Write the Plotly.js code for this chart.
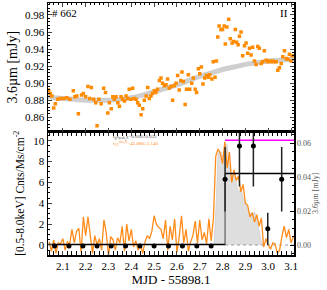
<!DOCTYPE html>
<html><head><meta charset="utf-8">
<script src="https://cdn.plot.ly/plotly-3.0.1.min.js"></script>
<style>html,body{margin:0;padding:0;background:#fff}#plot{width:327px;height:290px}</style>
</head><body><div id="plot"></div>
<script>
// ---- Top panel: 3.6 micron photometry ----
const topX = [2.035,2.038,2.045,2.052,2.060,2.067,2.077,2.088,2.102,2.117,2.131,2.146,2.153,2.161,2.168,2.182,2.190,2.200,2.210,2.218,2.225,2.235,2.244,2.250,2.258,2.268,2.279,2.287,2.297,2.304,2.312,2.319,2.326,2.333,2.341,2.348,2.355,2.362,2.370,2.377,2.384,2.391,2.399,2.406,2.413,2.421,2.428,2.435,2.443,2.450,2.457,2.465,2.472,2.479,2.486,2.493,2.501,2.508,2.515,2.523,2.530,2.537,2.545,2.552,2.559,2.566,2.574,2.581,2.588,2.596,2.603,2.610,2.617,2.622,2.628,2.636,2.642,2.650,2.656,2.665,2.672,2.680,2.686,2.694,2.700,2.707,2.714,2.722,2.729,2.737,2.744,2.753,2.759,2.767,2.773,2.779,2.785,2.793,2.800,2.807,2.812,2.819,2.827,2.834,2.842,2.849,2.856,2.862,2.868,2.874,2.881,2.888,2.896,2.903,2.910,2.918,2.925,2.932,2.940,2.947,2.954,2.961,2.969,2.976,2.983,2.991,2.998,3.005,3.013,3.020,3.027,3.035,3.042,3.049,3.057,3.064,3.071,3.079,3.086,3.093,3.100,3.105];
const topY = [0.892,0.891,0.888,0.885,0.871,0.876,0.881,0.882,0.882,0.883,0.881,0.891,0.884,0.885,0.864,0.886,0.888,0.884,0.896,0.882,0.895,0.881,0.877,0.850,0.881,0.876,0.894,0.889,0.865,0.877,0.870,0.884,0.881,0.884,0.877,0.873,0.884,0.881,0.879,0.885,0.882,0.893,0.881,0.894,0.882,0.881,0.877,0.874,0.863,0.870,0.880,0.885,0.895,0.882,0.885,0.888,0.891,0.889,0.893,0.903,0.906,0.900,0.897,0.898,0.905,0.894,0.896,0.880,0.897,0.900,0.909,0.892,0.903,0.913,0.902,0.875,0.893,0.910,0.893,0.900,0.906,0.893,0.889,0.917,0.911,0.919,0.899,0.906,0.909,0.907,0.910,0.905,0.925,0.907,0.926,0.954,0.967,0.963,0.963,0.967,0.946,0.966,0.975,0.952,0.947,0.949,0.963,0.948,0.945,0.955,0.960,0.932,0.944,0.947,0.935,0.941,0.933,0.942,0.926,0.922,0.943,0.941,0.923,0.925,0.938,0.927,0.925,0.926,0.925,0.926,0.925,0.925,0.915,0.918,0.923,0.931,0.938,0.929,0.928,0.934,0.926,0.932];
const curveX = [2.035,2.06,2.1,2.15,2.2,2.25,2.3,2.35,2.4,2.45,2.5,2.55,2.6,2.65,2.7,2.75,2.8,2.85,2.9,2.95,3.0,3.05,3.1,3.113];
const curveY = [0.884,0.883,0.882,0.881,0.880,0.880,0.880,0.881,0.883,0.886,0.890,0.894,0.898,0.903,0.908,0.912,0.916,0.919,0.922,0.924,0.926,0.927,0.928,0.928];

// ---- Bottom panel: X-ray light curve ----
const xrayX = [2.04,2.05,2.06,2.07,2.08,2.09,2.10,2.11,2.12,2.13,2.14,2.15,2.16,2.17,2.18,2.19,2.20,2.21,2.22,2.23,2.24,2.25,2.26,2.27,2.28,2.29,2.30,2.31,2.32,2.33,2.34,2.35,2.36,2.37,2.38,2.39,2.40,2.41,2.42,2.43,2.44,2.45,2.46,2.47,2.48,2.49,2.50,2.51,2.52,2.53,2.54,2.55,2.56,2.57,2.58,2.59,2.60,2.61,2.62,2.63,2.64,2.65,2.66,2.67,2.68,2.69,2.70,2.71,2.72,2.73,2.74,2.75,2.76,2.77,2.78,2.79,2.80,2.81,2.82,2.83,2.84,2.85,2.86,2.87,2.88,2.89,2.90,2.91,2.92,2.93,2.94,2.95,2.96,2.97,2.98,2.99,3.00,3.01,3.02,3.03,3.04,3.05,3.06,3.07,3.08,3.09,3.10,3.11];
const xrayY = [0.3,-0.6,0.5,-0.8,0.2,0.1,0.6,-0.5,0.3,0.1,1.5,0.2,1.3,1.6,-0.7,2.7,0.9,2.7,1.0,-0.8,0.9,0.0,0.6,-0.5,2.4,1.2,-1.0,0.8,0.5,-0.5,0.7,0.2,1.8,-0.6,2.0,0.4,1.5,-0.2,0.4,-0.5,0.1,-0.8,0.3,0.9,0.6,1.3,2.8,2.0,1.7,1.5,0.6,2.4,-0.5,1.8,0.5,2.5,-0.7,0.8,2.8,0.2,1.5,-0.6,0.3,0.9,2.3,0.2,2.4,0.5,1.2,0.1,2.5,0.4,2.6,8.5,9.2,8.8,7.8,9.9,7.4,8.9,6.0,7.2,6.2,6.6,5.1,5.8,4.0,3.8,2.7,3.1,2.2,2.9,1.8,2.6,-0.2,0.6,0.0,-0.4,0.2,0.1,-0.8,-0.5,0.8,1.8,0.7,1.5,0.2,0.8];
const fillX = [2.762,2.772,2.780,2.790,2.800,2.810,2.820,2.830,2.840,2.850,2.860,2.870,2.880,2.890,2.900,2.910,2.920,2.930,2.940,2.950,2.960,2.970,2.980];
const fillY = [0,4.0,8.8,9.0,8.5,8.8,9.7,7.5,6.5,6.8,6.0,5.0,5.5,4.5,4.0,3.5,3.0,2.8,3.2,2.5,1.5,0.3,0];
const binX = [2.064,2.127,2.188,2.250,2.312,2.375,2.438,2.500,2.563,2.624,2.687,2.750,2.811,2.874,2.935,2.998,3.059];
const binY = [-0.1,-0.1,-0.1,-0.1,-0.1,-0.1,-0.1,-0.1,-0.1,-0.1,-0.1,-0.1,6.3,9.5,9.5,1.55,6.3];
const binErr = [0,0,0,0,0,0,0,0,0,0,0,0,3.1,3.9,3.9,1.55,3.1];
const stepX = [2.035,2.811,null,2.811,3.113];
const stepY = [0.05,0.05,null,6.85,6.85];
const stepEdgeX = [2.811,2.811];
const stepEdgeY = [0,6.85];
const baseX = [2.811,3.113];
const baseY = [0,0];
const maxX = [2.811,3.113];
const maxY = [10.04,10.04];

const serif = 'Liberation Serif';
const orange = '#ff8c1a';

const traces = [
  {x: curveX, y: curveY, xaxis:'x2', yaxis:'y', mode:'lines', line:{color:'#cfcfcf', width:5, shape:'spline'}, hoverinfo:'skip'},
  {x: topX, y: topY, xaxis:'x2', yaxis:'y', mode:'markers', marker:{symbol:'square', size:3.5, color:'#ff8c00'}},
  {x: fillX, y: fillY, xaxis:'x', yaxis:'y2', mode:'lines', fill:'tozeroy', fillcolor:'#dedede', line:{color:'#c8c8c8', width:0.6}},
  {x: baseX, y: baseY, xaxis:'x', yaxis:'y2', mode:'lines', line:{color:'#999', width:1, dash:'dot'}},
  {x: xrayX, y: xrayY, xaxis:'x', yaxis:'y2', mode:'lines', line:{color:orange, width:1.3}},
  {x: stepEdgeX, y: stepEdgeY, xaxis:'x', yaxis:'y2', mode:'lines', line:{color:'#777', width:1.5}},
  {x: stepX, y: stepY, xaxis:'x', yaxis:'y2', mode:'lines', line:{color:'#000', width:1.6}},
  {x: maxX, y: maxY, xaxis:'x', yaxis:'y2', mode:'lines', line:{color:'#ff00ff', width:1.5}},
  {x: binX, y: binY, xaxis:'x', yaxis:'y2', mode:'markers', marker:{size:5, color:'#000'},
   error_y:{type:'data', array: binErr, visible:true, color:'#222', thickness:1.5, width:0}},
  {x: [null], y: [null], xaxis:'x', yaxis:'y3', mode:'markers', showlegend:false}
];

const tickFont = {family: serif, size: 11, color:'#000'};
const layout = {
  width: 327, height: 290,
  margin: {l:48, r:33, t:3, b:35, pad:0},
  paper_bgcolor:'#fff', plot_bgcolor:'#fff',
  showlegend:false,
  font:{family: serif, color:'#000'},
  xaxis: {domain:[0,1], anchor:'y2', range:[2.035,3.113], dtick:0.1, tick0:2.0, tickformat:'.1f',
    ticks:'inside', ticklen:4, tickwidth:1, showline:true, linecolor:'#000', linewidth:1.5, mirror:'allticks',
    showgrid:false, zeroline:false, tickfont: tickFont,
    minor:{dtick:0.02, ticks:'inside', ticklen:2, tickcolor:'#000', showgrid:false},
    title:{text:'MJD - 55898.1', font:{family:serif, size:13}, standoff:2}},
  xaxis2: {domain:[0,1], anchor:'y', matches:'x', range:[2.035,3.113], dtick:0.1, tick0:2.0,
    ticks:'inside', ticklen:4, showline:true, linecolor:'#000', linewidth:1.5, mirror:'allticks',
    showticklabels:false, showgrid:false, zeroline:false,
    minor:{dtick:0.02, ticks:'inside', ticklen:2, tickcolor:'#000', showgrid:false}},
  yaxis: {domain:[0.49,1], anchor:'x2', range:[0.8433,0.994], dtick:0.02, tickformat:'.2f',
    ticks:'inside', ticklen:4, showline:true, linecolor:'#000', linewidth:1.5, mirror:'allticks',
    showgrid:false, zeroline:false, tickfont: tickFont,
    minor:{dtick:0.004, ticks:'inside', ticklen:2, tickcolor:'#000', showgrid:false},
    title:{text:'3.6µm [mJy]', font:{family:serif, size:14}, standoff:4}},
  yaxis2: {domain:[0,0.49], anchor:'x', range:[-0.96,10.88], dtick:2,
    ticks:'inside', ticklen:4, showline:true, linecolor:'#000', linewidth:1.5,
    showgrid:false, zeroline:false, tickfont: tickFont,
    minor:{dtick:0.5, ticks:'inside', ticklen:2, tickcolor:'#000', showgrid:false},
    title:{text:'[0.5-8.0keV] Cnts/Ms/cm<sup>-2</sup>', font:{family:serif, size:11.5}, standoff:6}},
  yaxis3: {overlaying:'y2', side:'right', anchor:'x', range:[-0.0059,0.0670], dtick:0.02, tickformat:'.2f',
    color:'#555', ticks:'inside', ticklen:4, tickcolor:'#000', showline:true, linecolor:'#000', linewidth:1.5,
    showgrid:false, zeroline:false, tickfont:{family:serif, size:8, color:'#555'},
    minor:{dtick:0.005, ticks:'inside', ticklen:2, tickcolor:'#000', showgrid:false},
    title:{text:'3.6µm [mJy]', font:{family:serif, size:8, color:'#555'}, standoff:2}},
  annotations: [
    {xref:'x2 domain', yref:'y domain', x:0.01, y:0.985, xanchor:'left', yanchor:'top', showarrow:false,
     text:'# 662', font:{family:serif, size:11}},
    {xref:'x2 domain', yref:'y domain', x:0.985, y:0.985, xanchor:'right', yanchor:'top', showarrow:false,
     text:'II', font:{family:serif, size:11}},
    {xref:'x', yref:'y2 domain', x:2.31, y:0.995, xanchor:'left', yanchor:'top', showarrow:false,
     text:'t<sub>gl</sub>t<sub>peak,X</sub>=0.000±0.035', font:{family:serif, size:5, color:'#555'}},
    {xref:'x', yref:'y2 domain', x:2.31, y:0.945, xanchor:'left', yanchor:'top', showarrow:false,
     text:'t<sub>1/2</sub><sup>rise,X</sup>=45.880±5.140', font:{family:serif, size:5, color:orange}}
  ]
};
Plotly.newPlot('plot', traces, layout, {staticPlot:true, displayModeBar:false});
</script></body></html>
